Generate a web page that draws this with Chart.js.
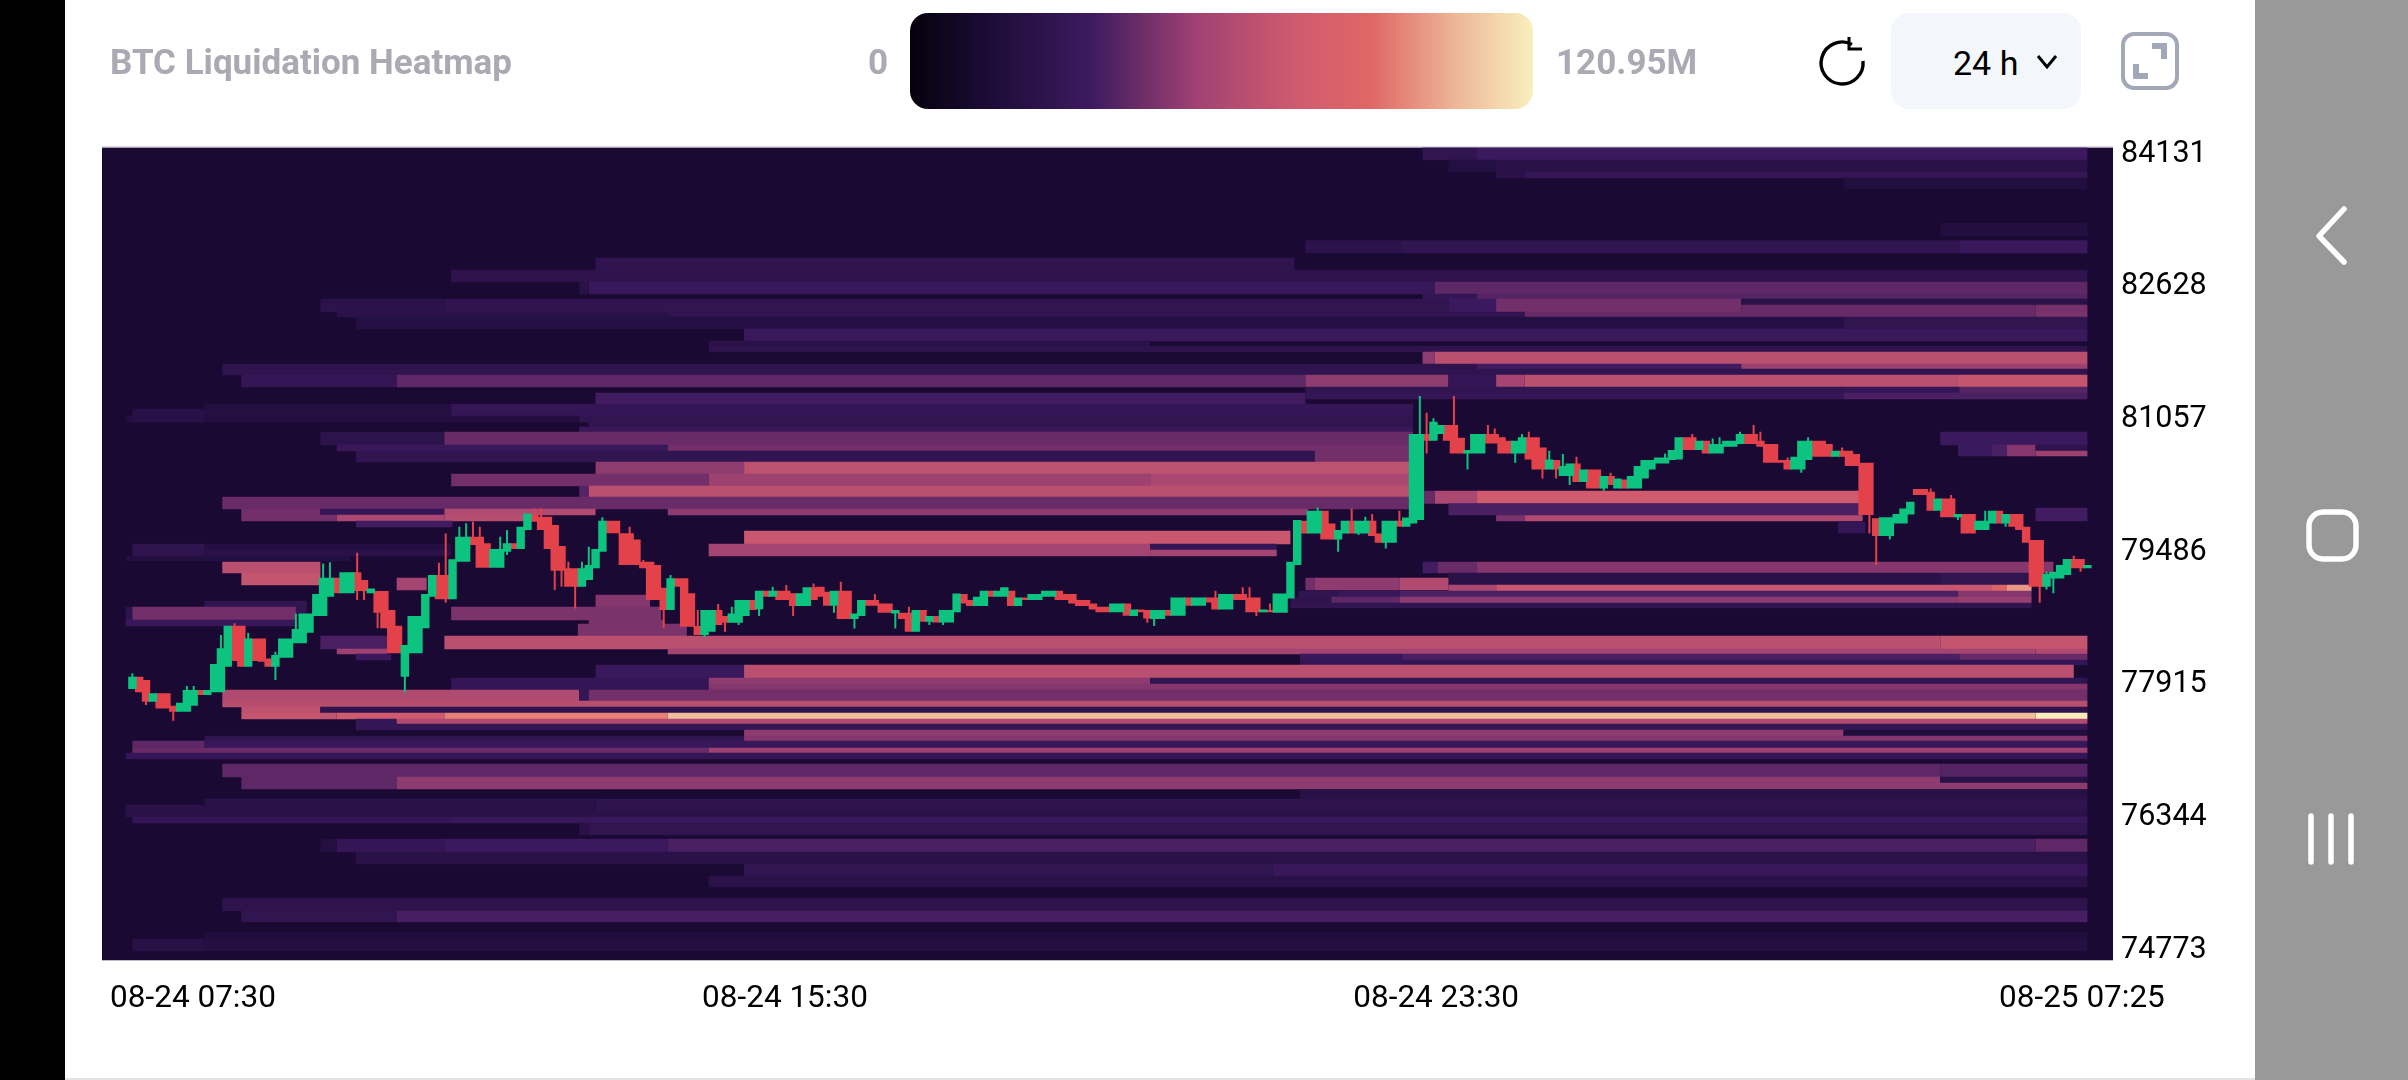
<!DOCTYPE html>
<html><head><meta charset="utf-8">
<script src="https://cdn.jsdelivr.net/npm/chart.js@4"></script>
<style>
html,body{margin:0;padding:0;background:#fff;width:2408px;height:1080px;overflow:hidden;font-family:Roboto,sans-serif}
.abs{position:absolute}
#cv{position:absolute;left:0;top:0}
.grey{color:#a9aab3;font-weight:700;font-size:35px;line-height:40px;white-space:nowrap}
</style></head><body>
<canvas id="cv" width="2408" height="1080" style="width:2408px;height:1080px"></canvas>
<div class="abs" style="left:0;top:0;width:65px;height:1080px;background:#000"></div>
<div class="abs" style="left:2255px;top:0;width:153px;height:1080px;background:#999"></div>
<div class="abs" style="left:65px;top:1078px;width:2190px;height:2px;background:#e4e4e4"></div>
<div class="abs grey" style="left:110px;top:43px" id="title">BTC Liquidation Heatmap</div>
<div class="abs grey" style="left:868px;top:43px">0</div>
<div class="abs" id="legendBar" style="left:910px;top:13px;width:623px;height:96px;border-radius:18px"></div>
<div class="abs grey" style="left:1556px;top:43px">120.95M</div>
<svg class="abs" style="left:1815px;top:34px" width="56" height="56" viewBox="0 0 56 56" fill="none" stroke="#000" stroke-width="3.4">
<path d="M37 10.5 A21 21 0 1 0 48 27"/><path d="M34 3 L34 15 L47 15" stroke-width="3"/></svg>
<div class="abs" style="left:1891px;top:13px;width:190px;height:96px;border-radius:18px;background:#f3f6fa"></div>
<div class="abs" style="left:1953px;top:43px;font-size:34px;line-height:40px;color:#000">24 h</div>
<svg class="abs" style="left:2035px;top:52px" width="24" height="20" viewBox="0 0 24 20" fill="none" stroke="#000" stroke-width="3"><path d="M3 4 L12 15 L21 4"/></svg>
<svg class="abs" style="left:2120px;top:31px" width="60" height="60" viewBox="0 0 60 60" fill="none">
<rect x="3" y="3" width="54" height="54" rx="11" stroke="#a3a8b8" stroke-width="4"/>
<path d="M32 12 H47 V28 H41 V18 H32 Z M13 33 H19 V42 H28 V48 H13 Z" fill="#a3a8b8"/></svg>
<svg class="abs" style="left:2300px;top:200px" width="70" height="680" viewBox="0 0 70 680" fill="none" stroke="#fff" stroke-width="5.5" stroke-linecap="round" stroke-linejoin="round">
<path d="M44 9 L19 36 L44 62"/>
<rect x="9" y="312" width="47" height="47" rx="14"/>
<path d="M11 616 V662 M31 616 V662 M51 616 V662"/></svg>
<script>
// ---- axis text
const xTickLabels=["08-24 07:30","08-24 15:30","08-24 23:30","08-25 07:25"];
const xTickMinutes=[44.5,479,957,1431];
const yTickLabels=["74773","76344","77915","79486","81057","82628","84131"];
const yTickPrices=[74760,76331,77902,79473,81044,82615,84186];
// ---- colour scale: [share of max, colour]
const heatMaxM=120.95;
const heatStops=[[0,"#05020c"],[0.13,"#1c0c38"],[0.29,"#3d1a60"],[0.46,"#a04272"],[0.62,"#d05b6e"],[0.74,"#e06766"],[0.88,"#eeb899"],[1,"#f9efbd"]];
// ---- heat rows (price band of each row)
const rowHigh=[84263,84115,83972,83901,83369,83161,82954,82812,82670,82528,82469,82398,82315,82256,82114,81971,81912,81841,81699,81640,81569,81427,81356,81285,81226,81084,81012,80953,80894,80740,80669,80539,80397,80255,80124,79983,79911,79840,79722,79568,79497,79355,79225,79083,79012,78941,78869,78964,79166,78893,78822,78668,78621,78479,78325,78266,78195,78136,77981,77910,77839,77709,77638,77567,77496,77437,77366,77295,77236,77153,77093,76963,76809,76738,76655,76549,76395,76336,76265,76075,75921,75779,75637,75377,75223,74974,74891,80195,80048,79829,80669,79994,81167,79426,76478];
const rowLow=[84115,83972,83901,83771,83215,83013,82812,82670,82528,82469,82398,82315,82256,82114,81971,81912,81841,81699,81640,81569,81427,81356,81285,81226,81084,81012,80953,80894,80740,80669,80539,80397,80255,80124,79983,79911,79840,79769,79568,79497,79426,79225,79083,79012,78941,78869,78810,78822,79023,78751,78668,78597,78467,78325,78266,78195,78136,77981,77910,77839,77709,77638,77567,77496,77437,77366,77295,77236,77153,77093,77022,76809,76738,76667,76549,76395,76336,76265,76123,75921,75779,75637,75507,75223,75093,74891,74749,80048,79911,79698,80610,79840,81012,79367,76395];
// ---- heat segments: [row, start minute, end minute, liquidation M]
const heatSegments=[
[0,947,987,28],[0,987,1435,34],[1,966,1001,20],[1,1001,1435,24],[2,1001,1022,24],[2,1022,1435,30],[3,1256,1435,19],[4,1327,1435,19],
[5,861,932,25],[5,932,1341,28],[5,1341,1435,33],[6,340,853,27],[7,234,1435,26],[8,328,335,24],[8,335,956,32],[8,956,1435,42],
[9,947,987,30],[9,987,1435,40],[10,138,229,24],[10,229,966,27],[10,966,1001,34],[10,1001,1181,46],[10,1181,1435,24],
[11,138,229,25],[11,229,966,28],[11,966,1001,34],[11,1001,1181,46],[11,1181,1397,44],[11,1397,1435,47],
[12,150,393,24],[12,393,1022,28],[12,1022,1397,44],[12,1397,1435,48],[13,164,1256,21],[13,1256,1435,28],[14,449,1435,33],[15,423,747,24],[16,423,1435,26],
[17,947,956,52],[17,956,1435,66],[18,66,987,26],[18,987,1181,36],[18,1181,1435,55],[19,66,1435,27],
[20,80,194,30],[20,194,861,42],[20,861,966,52],[20,966,1001,30],[20,1001,1022,58],[20,1022,1340,66],[20,1340,1435,70],
[21,861,1256,28],[21,1256,1341,30],[21,1341,1435,40],[22,340,861,36],[22,861,1256,30],[22,1256,1435,38],[23,340,861,36],
[24,53,234,20],[24,234,940,30],[25,-5,328,19],[25,328,940,28],[92,0,53,23],[26,335,940,28],[27,328,940,32],
[28,138,229,25],[28,229,940,44],[28,1327,1435,34],[29,150,393,32],[29,393,940,46],[29,1340,1365,34],[29,1365,1376,38],[29,1376,1397,50],[29,1397,1435,26],
[90,1340,1365,34],[90,1365,1376,38],[90,1376,1397,50],[90,1397,1435,55],
[30,164,868,28],[30,868,940,46],[31,340,449,52],[31,449,940,67],[32,234,423,46],[32,423,747,55],[32,747,940,60],[33,328,335,40],[33,335,940,66],[34,66,940,44],
[35,80,138,46],[35,138,229,30],[35,229,340,62],[35,393,863,52],[36,80,150,46],[36,150,229,60],[36,229,292,65],[36,1001,1022,48],[36,1022,1270,62],[37,164,235,36],
[87,947,956,44],[87,956,987,60],[87,987,1270,75],[88,966,1270,38],[89,1252,1272,30],[91,1397,1435,36],
[38,449,850,72],[39,0,53,27],[39,53,234,20],[39,423,747,57],[39,747,840,30],[40,0,53,27],[40,53,234,24],[40,423,747,57],[40,747,840,57],[93,-5,160,20],
[41,66,138,66],[41,947,958,36],[41,958,987,44],[41,987,1410,50],[42,80,138,70],[42,966,1327,24],[42,1327,1410,28],
[48,194,216,58],[48,861,868,46],[48,868,930,52],[48,930,966,62],
[43,966,1001,60],[43,1001,1365,72],[43,1365,1376,85],[43,1376,1394,100],
[44,856,885,28],[44,885,930,32],[44,930,1340,38],[44,1340,1394,50],[45,850,880,26],[45,880,930,42],[45,930,1340,52],[45,1340,1394,54],[46,850,1394,28],
[47,340,380,50],[49,53,128,28],[50,-5,0,26],[50,0,120,46],[50,234,388,48],[51,-5,120,32],[51,335,390,48],[52,327,407,48],
[53,138,187,38],[53,229,1327,66],[53,1327,1435,70],[54,150,187,55],[54,393,1397,57],[54,1397,1435,62],[55,164,190,33],[55,857,932,32],[55,932,1341,38],[55,1341,1435,44],[56,857,1435,30],
[57,340,449,33],[57,449,1425,66],[58,234,423,30],[58,423,747,52],[58,747,1435,28],[59,234,423,30],[59,423,1435,50],[60,66,328,62],[60,328,335,30],[60,335,1435,46],
[61,66,1435,65],[62,80,138,68],[62,138,1435,26],[63,80,150,70],[63,150,229,75],[63,229,393,95],[63,393,1397,108],[63,1397,1435,120],
[64,164,194,30],[64,194,1435,62],[65,164,1435,30],[66,449,1256,52],[66,1256,1435,18],[67,53,449,28],[67,449,1435,50],[68,0,53,42],[68,53,1435,32],[69,0,423,44],[69,423,1435,55],[70,-5,1435,30],
[71,66,1327,42],[71,1327,1435,40],[72,80,194,42],[72,194,1327,52],[72,1327,1435,22],[73,80,194,42],[73,194,1435,52],[74,857,1435,23],[75,53,340,24],[75,340,1435,26],[94,-5,53,24],[76,-5,1435,24],
[77,0,234,30],[77,234,1435,32],[78,328,335,24],[78,335,1435,28],[79,138,150,20],[79,150,229,30],[79,229,393,34],[79,393,1397,38],[79,1397,1435,42],[80,164,1435,24],
[81,449,837,28],[81,837,1435,32],[82,423,1435,24],[83,66,1435,26],[84,80,194,28],[84,194,1435,37],[85,53,1435,18],[86,0,53,22],[86,53,1435,20]
];
// ---- 5-minute candles
const candleStepMinutes=5;
const candleOpen=[77851,77997,77958,77701,77800,77800,77654,77583,77583,77654,77839,77780,77812,77812,78116,78601,78601,78116,78451,78451,78214,78116,78222,78222,78392,78392,78518,78716,78716,78945,79170,78984,78984,79233,79142,78984,79012,79012,78787,78601,77997,78274,78274,78570,78945,79201,79201,78913,79359,79359,79655,79655,79576,79288,79288,79477,79576,79509,79734,79912,79892,79892,79793,79545,79280,79280,79063,79142,79280,79477,79844,79844,79695,79695,79623,79359,79359,79320,79051,78787,79162,79162,78984,
78597,78491,78530,78787,78716,78637,78637,78716,78905,78795,79016,78945,79016,79016,78984,78834,78834,79055,
79062,79003,78837,79015,79015,78680,78715,78905,78905,78865,78865,78747,78755,78755,78530,78786,78648,78715,78640,78640,78759,78976,78905,78834,78834,79015,78944,78944,79015,78834,78936,78905,78905,78944,78944,79015,78976,78976,78905,78905,78865,78826,78826,78759,78759,78865,78715,78794,78786,78680,78680,78786,78719,78719,78936,78837,78837,78936,78936,78794,78794,78976,78976,78936,78936,78759,78786,
78754,78754,78924,79319,79844,79694,79694,79962,79812,79623,79694,79844,79694,79694,79844,79694,79583,79583,79844,79773,79812,79852,80870,80791,80870,80977,80977,80827,80641,80641,80641,80870,80870,80831,80791,80641,80641,80831,80831,80712,80452,80562,80373,80373,80523,80302,80452,80452,80227,80373,80227,80333,80227,80227,80345,80452,80523,80523,80562,80570,80831,80831,80681,80791,80641,80641,80720,80720,
80752,80870,80870,80791,80752,80752,80562,80562,80452,80452,80562,80791,80791,80752,80602,80673,80673,80633,80531,80531,79872,79662,79662,79812,79812,79919,80219,80219,80187,79962,80108,80108,79884,79923,79923,79733,79733,79812,79962,79812,79923,79923,79773,79615,79615,79063,79161,79161,79201,79390,79390,79280];
const candleClose=[77997,77812,77701,77800,77622,77622,77583,77689,77839,77839,77780,77839,78147,78333,78601,78183,78116,78451,78183,78175,78116,78254,78451,78451,78562,78747,78747,78976,79170,79170,78984,79233,79233,79012,79012,79043,78755,78570,78274,78274,78372,78716,78716,78976,79201,78913,78913,79387,79655,79655,79556,79288,79288,79509,79509,79576,79509,79773,79931,79833,79734,79509,79252,79252,79063,79063,79280,79320,79509,79844,79695,79695,79320,79320,79320,79280,78905,78905,78787,79162,79063,78589,78589,
78491,78787,78787,78609,78637,78747,78905,78905,78787,79016,78945,79016,78905,78905,78834,78984,79055,78905,
78944,78837,79015,78680,78680,78747,78905,78837,78837,78755,78755,78786,78680,78530,78786,78648,78715,78640,78786,78786,78983,78865,78834,78944,79015,78944,79015,79055,78834,78936,78905,78976,78976,79015,79015,78905,78905,78865,78834,78834,78794,78759,78759,78865,78865,78719,78794,78759,78687,78786,78786,78719,78936,78936,78837,78936,78936,78877,78794,78976,78976,78905,78905,78759,78759,78794,78759,
78983,78983,79358,79852,79694,79962,79962,79623,79623,79733,79844,79694,79844,79844,79662,79583,79844,79844,79773,79883,80870,80870,80791,81016,80977,80791,80641,80641,80681,80870,80870,80759,80759,80641,80641,80791,80831,80570,80452,80452,80570,80452,80491,80523,80302,80452,80227,80227,80373,80266,80345,80227,80373,80491,80562,80562,80594,80594,80681,80831,80681,80681,80791,80641,80752,80752,80791,80791,
80870,80752,80752,80720,80531,80531,80531,80452,80602,80791,80791,80602,80602,80602,80673,80602,80491,80491,79911,79911,79662,79884,79884,79923,79990,80069,80148,80148,79962,80108,79884,79884,79923,79694,79694,79844,79844,79962,79812,79923,79773,79733,79583,79063,79063,79212,79240,79319,79390,79280,79280,79319];
// ---- wicks: candle number and the far end of the wick
const wickIndex=[0,2,6,8,9,13,15,17,21,21,24,28,29,33,33,34,36,37,40,45,46,46,48,49,50,51,54,55,55,59,60,62,63,64,65,66,67,69,71,73,75,78,79,83,84,86,87,88,89,92,94,96,97,100,103,104,106,109,112,114,117,119,149,150,159,163,164,165,167,174,177,179,180,181,182,184,186,189,190,190,191,194,196,199,200,203,204,205,207,208,209,210,211,212,216,217,225,227,229,232,233,236,238,239,243,245,246,251,255,256,258,264,267,268,272,273,275,280,281,281,282,285,286];
const wickPrice=[78037,77662,77476,77887,77887,78491,78629,78518,78293,77958,78747,79339,79351,79466,78905,78905,78570,78937,77812,79347,79694,78874,79773,79813,79833,79773,79655,79734,79438,79991,79991,79024,79063,79359,78806,79359,79537,79884,79813,79773,79379,78570,79201,78787,78463,78858,78530,78826,78609,78716,79063,79083,78716,79102,78755,79122,78569,78976,78569,78826,78609,78609,78636,78597,79015,79055,79055,78715,78865,80002,79477,79990,79674,79891,79923,79516,79962,81320,81123,80641,81056,81320,80452,80977,80937,80531,80870,80898,80345,80673,80345,80633,80266,80602,80199,80412,80641,80779,80870,80819,80831,80898,80977,80898,80594,80412,80831,80712,79694,79319,79623,80227,80148,79852,79962,79931,79773,78873,79240,79031,78984,79430,79240];
// ---- library range of the axes
const yMin=74643,yMax=84263,xMin=-22.3,xMax=1453.8;
const plotHeightPx=812.5;

function hex(c){return [1,3,5].map(i=>parseInt(c.slice(i,i+2),16));}
function heatColor(m){const t=Math.min(1,m/heatMaxM);
 for(let i=1;i<heatStops.length;i++){if(t<=heatStops[i][0]){const a=heatStops[i-1],b=heatStops[i],f=(t-a[0])/(b[0]-a[0]);
  const A=hex(a[1]),B=hex(b[1]);return `rgb(${A.map((v,j)=>Math.round(v+(B[j]-v)*f)).join(",")})`;}}
 return heatStops[heatStops.length-1][1];}
document.getElementById("legendBar").style.background="linear-gradient(90deg,"+heatStops.map(s=>s[1]+" "+s[0]*100+"%").join(",")+")";

const datasets=[];
const pricePerPx=(yMax-yMin)/plotHeightPx;
const nSeg=heatSegments.length;
heatSegments.forEach((s,k)=>{
 const [r,a,b,m]=s,mid=(rowHigh[r]+rowLow[r])/2;
 datasets.push({type:"line",data:[{x:a,y:mid},{x:b,y:mid}],borderColor:heatColor(m),borderWidth:(rowHigh[r]-rowLow[r])/pricePerPx+0.6,pointRadius:0,order:10+nSeg-k,fill:false,tension:0});
});
const GREEN="#0cc47f",RED="#e4424a";
function isUp(i){return candleClose[i]>=candleOpen[i];}
function wickData(up){const out=[];wickIndex.forEach((i,k)=>{if(isUp(i)!==up)return;const x=i*candleStepMinutes;
 out.push({x,y:wickPrice[k]},{x,y:(candleOpen[i]+candleClose[i])/2},{x,y:null});});return out;}
function bodyData(up){const out=[];candleOpen.forEach((o,i)=>{if(isUp(i)!==up)return;const x=i*candleStepMinutes;
 out.push({x,y:o},{x,y:candleClose[i]},{x,y:null});});return out;}
datasets.push({type:"line",data:wickData(true),borderColor:GREEN,borderWidth:2,pointRadius:0,order:5,spanGaps:false});
datasets.push({type:"line",data:wickData(false),borderColor:RED,borderWidth:2,pointRadius:0,order:4,spanGaps:false});
datasets.push({type:"line",data:bodyData(false),borderColor:RED,borderWidth:8.4,pointRadius:0,order:3,spanGaps:false});
datasets.push({type:"line",data:bodyData(true),borderColor:GREEN,borderWidth:8.4,pointRadius:0,order:2,spanGaps:false});

const plotBg={id:"plotBg",beforeDatasetsDraw(c){const a=c.chartArea,g=c.ctx;g.save();g.fillStyle="#1a0933";g.fillRect(a.left,a.top,a.right-a.left,a.bottom-a.top);g.fillStyle="#bdb9c6";g.fillRect(a.left,a.top-1,a.right-a.left,1);g.fillRect(a.left,a.bottom,a.right-a.left,1);g.restore();}};
new Chart(document.getElementById("cv"),{type:"line",data:{datasets},plugins:[plotBg],options:{
 responsive:false,animation:false,events:[],devicePixelRatio:1,
 layout:{padding:{left:102,top:147.5,right:0,bottom:0}},
 plugins:{legend:{display:false},tooltip:{enabled:false},title:{display:false}},
 scales:{
  x:{type:"linear",min:xMin,max:xMax,grid:{display:false,drawTicks:false},border:{display:false},
   afterBuildTicks(s){s.ticks=xTickMinutes.map(v=>({value:v}));},afterFit(s){s.height=120;},
   ticks:{autoSkip:false,maxRotation:0,minRotation:0,padding:20,color:"#000",font:{family:"Roboto",size:31.5},callback:(v,i)=>xTickLabels[i]}},
  y:{type:"linear",position:"right",min:yMin,max:yMax,grid:{display:false,drawTicks:false},border:{display:false},
   afterBuildTicks(s){s.ticks=yTickPrices.map(v=>({value:v}));},afterFit(s){s.width=295;},
   ticks:{autoSkip:false,padding:8,color:"#000",font:{family:"Roboto",size:30.5},callback:(v,i)=>yTickLabels[i]}}
 }}});
</script></body></html>
